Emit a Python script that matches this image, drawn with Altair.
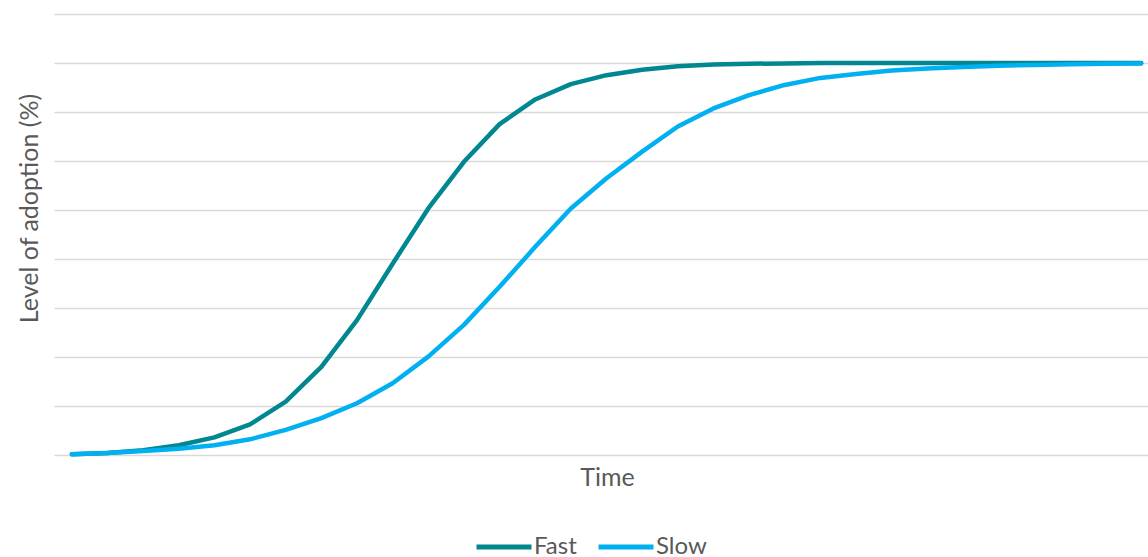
import altair as alt
import pandas as pd

# Adoption level (% of the eventual maximum) at each time step
time_steps = list(range(31))
fast = [0.2, 0.5, 1.2, 2.5, 4.5, 7.8, 13.6, 22.5, 34.4, 48.8, 62.9, 74.8, 84.4, 90.7,
        94.6, 96.9, 98.3, 99.2, 99.6, 99.8, 99.9, 100, 100, 100, 100, 100, 100, 100,
        100, 100, 100]
slow = [0.2, 0.5, 1.0, 1.6, 2.5, 4.0, 6.4, 9.4, 13.2, 18.3, 25.1, 33.2, 42.9, 53.1,
        62.9, 70.6, 77.4, 83.8, 88.4, 91.8, 94.4, 96.2, 97.2, 98.1, 98.6, 99.0, 99.3,
        99.5, 99.7, 99.8, 99.9]
series_names = ["Fast", "Slow"]
series_colors = ["#00878F", "#00B0F0"]
grid_values = [0, 12.5, 25, 37.5, 50, 62.5, 75, 87.5, 100, 112.5]

rows = []
for name, vals in zip(series_names, [fast, slow]):
    for t, v in zip(time_steps, vals):
        rows.append({"Time": t, "Adoption": v, "Series": name})
df = pd.DataFrame(rows)

FONT = "Lato"
TEXT = "#595959"
FS = 25

chart = (
    alt.Chart(df)
    .mark_line(strokeWidth=4.5, strokeCap="round", strokeJoin="round")
    .encode(
        x=alt.X(
            "Time:Q",
            scale=alt.Scale(domain=[-0.5, 30.19], nice=False, zero=False),
            axis=alt.Axis(
                title="Time", labels=False, ticks=False, grid=False, domain=False,
                titleFont=FONT, titleFontSize=FS, titleFontWeight="normal",
                titleColor=TEXT, titleX=553, titleY=22, titleBaseline="middle",
                titleAlign="center",
            ),
        ),
        y=alt.Y(
            "Adoption:Q",
            scale=alt.Scale(domain=[0, 112.5], nice=False),
            axis=alt.Axis(
                title="Level of adoption (%)", values=grid_values, labels=False,
                ticks=False, domain=False, grid=True, gridColor="#D9D9D9",
                gridWidth=1.5, titleFont=FONT, titleFontSize=FS,
                titleFontWeight="normal", titleColor=TEXT, titleX=-25, titleY=194,
                titleAngle=270, titleAlign="center", titleBaseline="middle",
            ),
        ),
        color=alt.Color(
            "Series:N",
            scale=alt.Scale(domain=series_names, range=series_colors),
            legend=alt.Legend(
                title=None, orient="none", direction="horizontal",
                legendX=420, legendY=503, symbolType="stroke", symbolSize=3025,
                symbolStrokeWidth=5, labelFont=FONT, labelFontSize=24,
                labelColor=TEXT, labelOffset=0, columnPadding=11,
            ),
        ),
        order=alt.Order("Time:Q"),
    )
    .properties(
        width=1094,
        height=441,
        background="white",
        autosize=alt.AutoSizeParams(type="none"),
        padding={"left": 54, "top": 14, "right": 0, "bottom": 102},
    )
    .configure_view(strokeWidth=0, stroke=None)
)

chart.save("out.html", embed_options={"renderer": "svg", "actions": False})
